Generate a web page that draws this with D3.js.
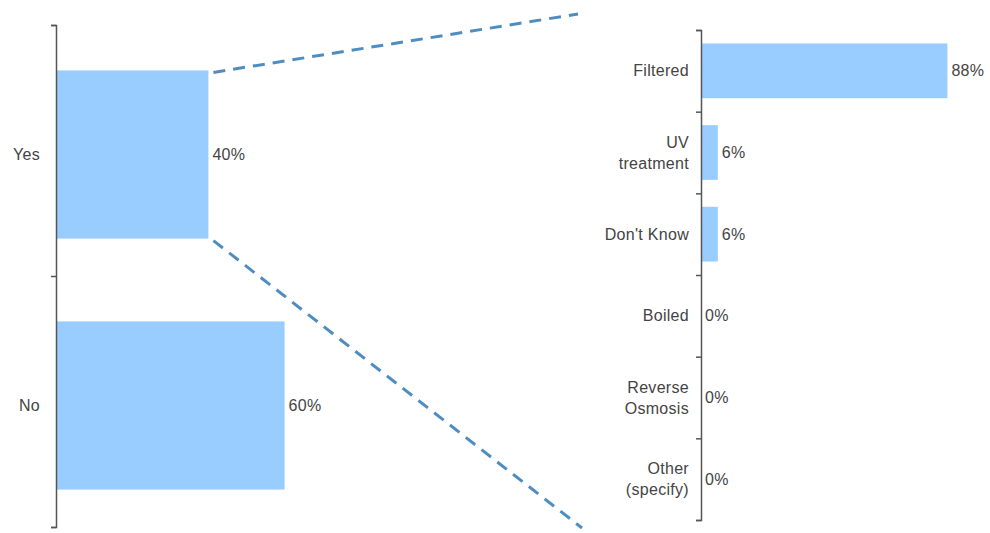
<!DOCTYPE html>
<html>
<head>
<meta charset="utf-8">
<script src="https://cdn.jsdelivr.net/npm/d3@7"></script>
<style>
  html, body { margin: 0; padding: 0; background: #fff; }
  svg text { font-family: "Liberation Sans", Arial, sans-serif; font-size: 16px; fill: #444; letter-spacing: 0.3px; }
</style>
</head>
<body>
<svg id="chart" width="990" height="533"></svg>
<script>
// ---- data ----
const leftCategories = ["Yes", "No"];
const leftValues = [0.40, 0.60];
const leftLabels = ["40%", "60%"];

const rightCategories = [["Filtered"], ["UV", "treatment"], ["Don't Know"], ["Boiled"], ["Reverse", "Osmosis"], ["Other", "(specify)"]];
const rightValues = [0.88, 0.06, 0.06, 0, 0, 0];
const rightLabels = ["88%", "6%", "6%", "0%", "0%", "0%"];

const barColor = "#99ccff";
const axisColor = "#555";
const connColor = "#4f8dc0";

const svg = d3.select("#chart");

function drawPanel(cfg) {
  const n = cfg.values.length;
  const y = d3.scaleBand().domain(d3.range(n)).range([cfg.top + cfg.shift, cfg.bottom + cfg.shift])
    .paddingInner(0.33).paddingOuter(0.165);
  const x = d3.scaleLinear().domain([0, 1]).range([cfg.x0, cfg.x1]);
  const g = svg.append("g");

  g.selectAll("rect").data(cfg.values).join("rect")
    .attr("x", x(0))
    .attr("y", (d, i) => y(i))
    .attr("width", d => x(d) - x(0))
    .attr("height", y.bandwidth())
    .attr("fill", barColor);

  // axis with ticks at category boundaries
  const yb = d3.scaleLinear().domain([0, n]).range([cfg.top, cfg.bottom]);
  const ax = g.append("g").attr("transform", `translate(${x(0)},0)`)
    .call(d3.axisLeft(yb).tickValues(d3.range(n + 1)).tickFormat("").tickSize(5).tickSizeOuter(5));
  ax.selectAll("path, line").attr("stroke", axisColor).attr("stroke-width", 1.5);

  // category labels
  g.selectAll("text.cat").data(cfg.cats).join("text")
    .attr("class", "cat")
    .attr("text-anchor", "end")
    .attr("x", x(0) - cfg.labelGap)
    .attr("y", (d, i) => y(i) + y.bandwidth() / 2)
    .each(function(d) {
      const lines = Array.isArray(d) ? d : [d];
      const lh = 21;
      const t = d3.select(this);
      lines.forEach((l, k) => {
        t.append("tspan").attr("x", x(0) - cfg.labelGap)
          .attr("dy", k === 0 ? ((-(lines.length - 1) * lh / 2) + 5.5) : lh)
          .text(l);
      });
    });

  // value labels
  g.selectAll("text.val").data(cfg.values).join("text")
    .attr("class", "val")
    .attr("x", d => x(d) + 4)
    .attr("y", (d, i) => y(i) + y.bandwidth() / 2 + 5.5)
    .text((d, i) => cfg.labels[i]);

  return { x, y };
}

const L = drawPanel({ values: leftValues, cats: leftCategories, labels: leftLabels,
  top: 25, bottom: 527, shift: 4, x0: 56, x1: 437, labelGap: 16 });
const R = drawPanel({ values: rightValues, cats: rightCategories, labels: rightLabels,
  top: 30, bottom: 520, shift: 0, x0: 701, x1: 981, labelGap: 12 });

// connector dashed lines from "Yes" bar
const bx = L.x(leftValues[0]) + 5;
const byTop = L.y(0) + 2;
const byBot = L.y(0) + L.y.bandwidth() + 2;
svg.append("line").attr("x1", bx).attr("y1", byTop).attr("x2", 578).attr("y2", 14)
  .attr("stroke", connColor).attr("stroke-width", 3).attr("stroke-dasharray", "12,8");
svg.append("line").attr("x1", bx).attr("y1", byBot).attr("x2", 582).attr("y2", 528)
  .attr("stroke", connColor).attr("stroke-width", 3).attr("stroke-dasharray", "12,8");
</script>
</body>
</html>
